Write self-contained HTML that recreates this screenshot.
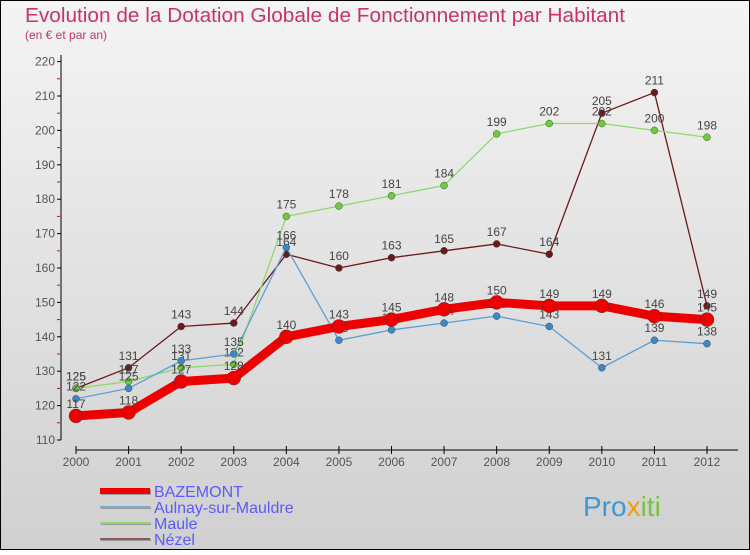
<!DOCTYPE html>
<html><head><meta charset="utf-8"><style>
body{margin:0;width:750px;height:550px;overflow:hidden;font-family:"Liberation Sans",sans-serif}
svg text{font-family:"Liberation Sans",sans-serif}
</style></head><body>
<svg id="c" width="750" height="550" xmlns="http://www.w3.org/2000/svg">
<defs><linearGradient id="bg" x1="0" y1="0" x2="0" y2="1"><stop offset="0" stop-color="#f4f4f4"/><stop offset="1" stop-color="#d0d0d0"/></linearGradient></defs>
<rect x="0.5" y="0.5" width="749" height="549" fill="url(#bg)" stroke="#000"/>
<text x="25" y="22" font-size="20" textLength="600" lengthAdjust="spacingAndGlyphs" fill="#c8326e">Evolution de la Dotation Globale de Fonctionnement par Habitant</text>
<text x="25" y="39" font-size="12" fill="#c8326e">(en € et par an)</text>
<g id="axes"></g><g id="series"></g><g id="legend"></g>
<text x="583" y="516" font-size="28" fill="#3a9ad9">Pro<tspan fill="#f39c12">x</tspan><tspan fill="#7cc242">iti</tspan></text>
</svg>
<script>
const years=["2000","2001","2002","2003","2004","2005","2006","2007","2008","2009","2010","2011","2012"];
const yTicks=[110,120,130,140,150,160,170,180,190,200,210,220];
const bazemont=[117,118,127,128,140,143,145,148,150,149,149,146,145];
const aulnay=[122,125,133,135,166,139,142,144,146,143,131,139,138];
const maule=[125,127,131,132,175,178,181,184,199,202,202,200,198];
const nezel=[125,131,143,144,164,160,163,165,167,164,205,211,149];
const NS="http://www.w3.org/2000/svg";
const X=i=>76+i*(707-76)/12;
const Y=v=>440-(v-110)*3.44;
function mk(t,a,p){const e=document.createElementNS(NS,t);for(const k in a)e.setAttribute(k,a[k]);p.appendChild(e);return e;}
const ax=document.getElementById('axes');
let e=mk('line',{x1:61,y1:55,x2:61,y2:440,stroke:'#000'},ax);


e=mk('line',{x1:76,y1:450,x2:738,y2:450,stroke:'#000'},ax);


yTicks.forEach((v,i)=>{mk('line',{x1:57,x2:61,y1:Y(v),y2:Y(v),stroke:'#000'},ax);
 if(i<yTicks.length-1)mk('line',{x1:57,x2:60,y1:Y(v+5),y2:Y(v+5),stroke:'#e00'},ax);
 const t=mk('text',{x:55,y:Y(v)+4,'text-anchor':'end','font-size':12,fill:'#555'},ax);t.textContent=v;
 
 });
years.forEach((y,i)=>{mk('line',{x1:X(i),x2:X(i),y1:446,y2:454,stroke:'#000'},ax);
 const t=mk('text',{x:X(i),y:466,'text-anchor':'middle','font-size':12,fill:'#555'},ax);t.textContent=y;
 
 });
const sg=document.getElementById('series');
const defs=[[nezel,'#6b1a1a','#6b1a1a',1.3,3.5,'nezel'],[maule,'#8fd86a','#6ccc3a',1.3,3.5,'maule'],[aulnay,'#5a9fd4','#3b87c8',1.3,3.5,'aulnay'],[bazemont,'#ee0000','#ee0000',9,7,'bazemont']];
defs.forEach(([d,lc,mc,w,r,n])=>{
 const l=mk('polyline',{points:d.map((v,i)=>X(i)+','+Y(v)).join(' '),fill:'none',stroke:lc,'stroke-width':w,'stroke-linejoin':'round'},sg);
 
 
 d.forEach((v,i)=>{const c=mk('circle',{cx:X(i),cy:Y(v),r:r,fill:mc,stroke:'#333','stroke-width':0.4},sg);
  
  
  const t=mk('text',{x:X(i),y:Y(v)-8,'text-anchor':'middle','font-size':12,fill:'#444'},sg);t.textContent=v;
  
  });
});
const lg=document.getElementById('legend');
[['BAZEMONT','#ee0000',6],['Aulnay-sur-Mauldre','#7aaed0',2],['Maule','#90d870',2],['Nézel','#8a5a5a',2]].forEach(([n,c,w],i)=>{
 const y=491+i*16;
 mk('line',{x1:101,x2:151,y1:y+1,y2:y+1,stroke:'#999','stroke-width':w},lg);
 mk('line',{x1:100,x2:150,y1:y,y2:y,stroke:c,'stroke-width':w},lg);
 const t=mk('text',{x:154,y:y+6,'font-size':16,fill:'#5a5aff'},lg);t.textContent=n;
 
 
});
</script>
</body></html>
